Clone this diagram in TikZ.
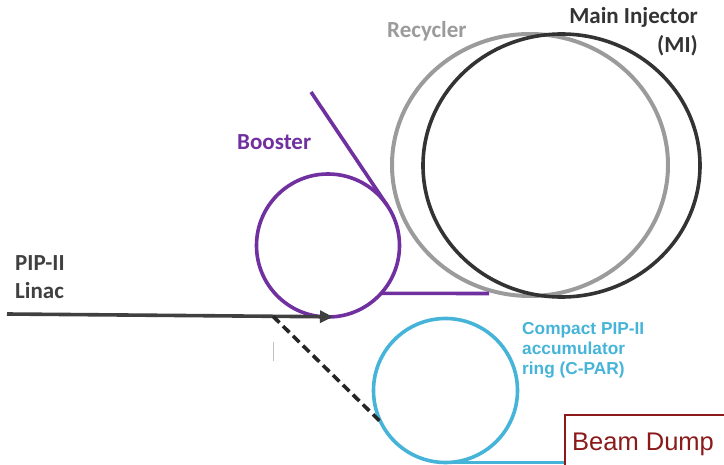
\documentclass[tikz,border=0pt]{standalone}
\usepackage{fontspec}
\setmainfont{Carlito}
\newfontfamily\arialf{Liberation Sans}
\usetikzlibrary{arrows.meta,shapes.geometric}
\definecolor{cpurple}{HTML}{7030A0}
\definecolor{cgray}{HTML}{9B9B9B}
\definecolor{cdark}{HTML}{333333}
\definecolor{ccyan}{HTML}{46B4D8}
\definecolor{cred}{HTML}{8B1A1A}
\definecolor{carrow}{HTML}{404040}
\tikzset{
  ring/.style={draw, ellipse, line width=3.6pt, inner sep=0pt, outer sep=0pt},
  lbl/.style={font=\fontsize{23}{28}\selectfont\bfseries, inner sep=0pt, anchor=base west},
  cyanlbl/.style={font=\arialf\fontsize{17.3}{20}\selectfont\bfseries, text=ccyan, inner sep=0pt, anchor=base west},
  beamline/.style={line width=3.6pt},
}
\begin{document}
\begin{tikzpicture}[x=1pt,y=-1pt]
\useasboundingbox (0,0) rectangle (724,465);
\clip (0,0) rectangle (724,465);
% rings
\node[ring, draw=cgray, line width=4pt, minimum width=276pt, minimum height=262pt] (rec) at (530,165) {};
\node[ring, draw=cdark, minimum width=277pt, minimum height=263pt] (mi) at (561.5,165.5) {};
\node[ring, circle, draw=cpurple, minimum size=143pt] (booster) at (328,245.5) {};
\node[ring, circle, draw=ccyan, minimum size=144pt] (cpar) at (445.5,390.5) {};
% beam dump box
\node[draw=cred, line width=1.6pt, fill=white, anchor=north west, minimum width=190pt, minimum height=70pt, inner sep=0pt] (dump) at (564,414) {};
\node[font=\arialf\fontsize{25.5}{30}\selectfont, text=cred, inner sep=0pt, anchor=base west] (dumptxt) at (572,450) {Beam Dump};
% coordinates
\coordinate (btop) at (311,92);
\coordinate (bend) at (489,293.5);
\coordinate (lstart) at (7,314);
\coordinate (split) at (273,316.3);
\coordinate (tick1) at (273,342);
\coordinate (tick2) at (273,361);
% booster lines
\draw[beamline, draw=cpurple] (btop) -- (booster.34);
\draw[beamline, draw=cpurple] (booster.-42) -- (bend);
% linac arrow
\draw[beamline, draw=carrow, -{Triangle[length=13pt,width=12pt]}] (lstart) -- (booster.-86);
% dashed to C-PAR
\draw[beamline, draw=black!85, dash pattern=on 9pt off 5pt] (split) -- (cpar.206);
% C-PAR to dump
\draw[beamline, draw=ccyan] (cpar.south) -- (dump.west |- cpar.south);
% small tick
\draw[line width=0.7pt, draw=black!25] (tick1) -- (tick2);
% labels
\node[lbl, text=cgray] (reclbl) at (387,38) {Recycler};
\node[lbl, text=cdark, anchor=base east] (milbl1) at (698,24) {Main Injector};
\node[lbl, text=cdark, anchor=base east] (milbl2) at (698,53) {(MI)};
\node[lbl, text=cpurple] (boostlbl) at (237,150) {Booster};
\node[lbl, text=carrow] (pip1) at (15,271) {PIP-II};
\node[lbl, text=carrow] (pip2) at (15,299) {Linac};
\node[cyanlbl] (c1) at (522,335) {Compact PIP-II};
\node[cyanlbl] (c2) at (522,355) {accumulator};
\node[cyanlbl] (c3) at (522,375) {ring (C-PAR)};
\end{tikzpicture}
\end{document}
